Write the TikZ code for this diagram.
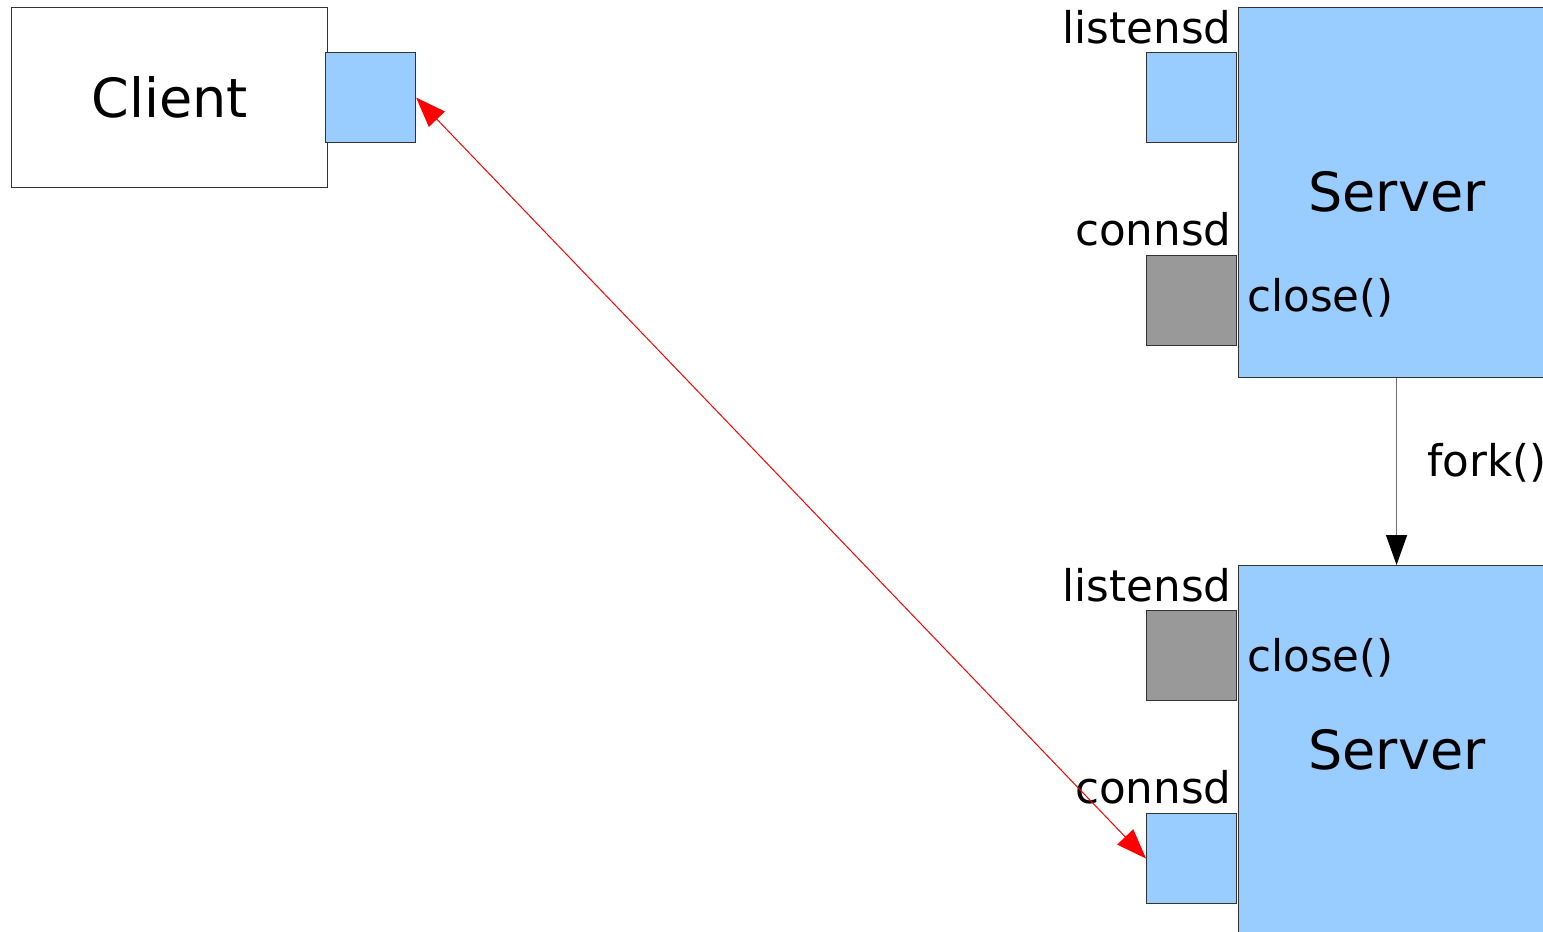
\documentclass[tikz,border=0pt]{standalone}
\usepackage{fontspec}
\setmainfont{DejaVu Sans}
\usetikzlibrary{arrows.meta}
\definecolor{sockblue}{HTML}{99CCFF}
\definecolor{sockgray}{HTML}{999999}
\definecolor{edge}{HTML}{333333}
\definecolor{forkline}{HTML}{707070}
\tikzset{
  proc/.style={draw=edge, line width=0.55pt, anchor=north west, inner sep=0pt,
               minimum width=158pt, minimum height=#1},
  sock/.style={draw=edge, line width=0.55pt, anchor=north west, inner sep=0pt,
               minimum width=45pt, minimum height=45pt},
  bigtxt/.style={inner sep=0pt, font=\fontsize{27}{30}\selectfont},
  smalltxt/.style={inner sep=0pt, font=\fontsize{21.8}{25}\selectfont},
  link/.style={draw=red, line width=0.5pt,
               {Triangle[length=15pt,width=11pt]}-{Triangle[length=15pt,width=11pt]}},
  forkarrow/.style={draw=forkline, line width=0.7pt,
               -{Triangle[length=15pt,width=10.5pt,fill=black,color=black]}}
}
\begin{document}
\begin{tikzpicture}[x=0.5pt, y=-0.5pt]
  \clip (0,0) rectangle (1543,932);
  \fill[white] (0,0) rectangle (1543,932);

  % client process and its socket
  \node[proc=90pt, fill=white] (client) at (11,7) {};
  \node[bigtxt, anchor=base] (clienttxt) at (170,117) {Client};
  \node[sock, fill=sockblue] (csock) at (325,52) {};

  % parent server
  \node[proc=185pt, fill=sockblue] (srv1) at (1238,7) {};
  \node[bigtxt, anchor=base] (srv1txt) at (1397,211) {Server};
  \node[sock, fill=sockblue] (lsd1) at (1146,52) {};
  \node[sock, fill=sockgray] (csd1) at (1146,255) {};
  \node[smalltxt, anchor=base east] (lsd1lbl) at (1232,43) {listensd};
  \node[smalltxt, anchor=base east] (csd1lbl) at (1232,245) {connsd};
  \node[smalltxt, anchor=base west] (cl1) at (1247,311) {close()};

  % child server
  \node[proc=185pt, fill=sockblue] (srv2) at (1238,565) {};
  \node[bigtxt, anchor=base] (srv2txt) at (1397,769) {Server};
  \node[sock, fill=sockgray] (lsd2) at (1146,610) {};
  \node[sock, fill=sockblue] (csd2) at (1146,813) {};
  \node[smalltxt, anchor=base east] (lsd2lbl) at (1232,601) {listensd};
  \node[smalltxt, anchor=base east] (csd2lbl) at (1232,803) {connsd};
  \node[smalltxt, anchor=base west] (cl2) at (1247,671) {close()};

  % fork
  \draw[forkarrow] (srv1.south) -- (srv2.north);
  \node[smalltxt, anchor=base west] (forklbl) at (1427,476) {fork()};

  % connection between client and child
  \draw[link] (csock.east) -- (csd2.west);
\end{tikzpicture}
\end{document}
